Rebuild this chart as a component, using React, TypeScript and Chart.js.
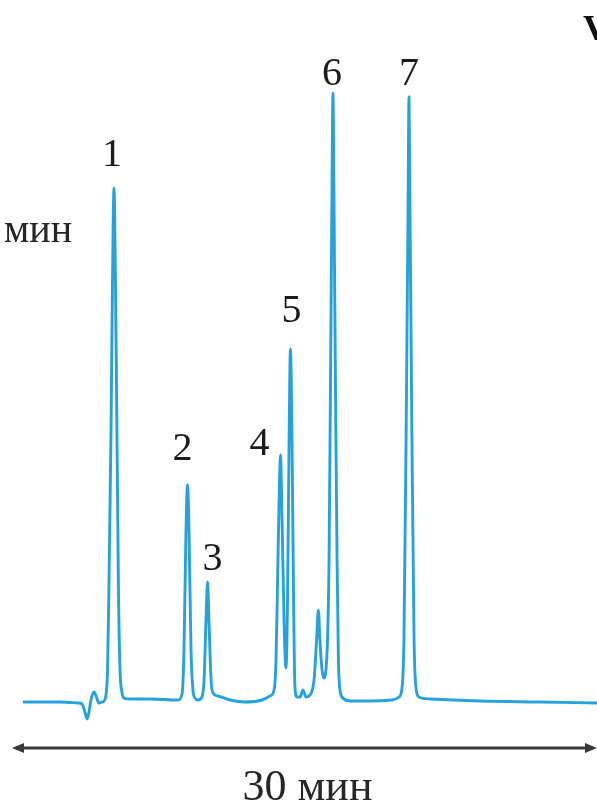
import React, { useEffect, useRef } from "react";
import { Chart, registerables } from "chart.js";

Chart.register(...registerables);

// Retention time (min) and detector signal (arbitrary units)
const timeMin = [
  0.56, 1.44, 2.46, 3.38, 3.59, 3.74, 3.85, 3.95, 4.05, 4.21, 4.31, 4.46, 4.62,
  4.72, 4.82, 4.9, 4.97, 5.08, 5.15, 5.23, 5.31, 5.38, 5.46, 5.54, 5.62, 5.74,
  6.05, 7.08, 8.51, 8.72, 8.82, 8.92, 9.0, 9.08, 9.18, 9.28, 9.38, 9.54, 9.74,
  9.85, 9.95, 10.03, 10.1, 10.21, 10.31, 10.56, 11.18, 11.95, 12.82, 13.23,
  13.44, 13.54, 13.64, 13.72, 13.77, 13.85, 13.95, 14.05, 14.13, 14.21, 14.28,
  14.36, 14.44, 14.51, 14.62, 14.77, 14.92, 15.08, 15.28, 15.49, 15.62, 15.71,
  15.79, 15.9, 16.0, 16.1, 16.18, 16.26, 16.33, 16.41, 16.46, 16.51, 16.59,
  16.67, 16.74, 16.82, 16.97, 17.33, 18.36, 19.49, 19.85, 20.0, 20.1, 20.21,
  20.31, 20.36, 20.41, 20.51, 20.62, 20.72, 20.87, 21.44, 24.0, 27.08, 30.0,
];
const signal = [
  0, 0, 0, -0.17, -0.33, -1.67, -2.83, -1.67, 0.33, 1.67, 1.0, -0.17, 0,
  0.17, 1.17, 5.33, 18.67, 45.5, 69.0, 85.67, 69.0, 45.5, 18.67, 5.33, 2.0, 0.67,
  0.5, 0.5, 0.33, 1.33, 8.67, 28.0, 36.17, 28.0, 8.67, 2.0, 0.67, 0.33, 0.83,
  3.67, 13.67, 20.0, 13.67, 3.67, 1.5, 1.0, 0.33, 0, 0.33, 1.0,
  2.0, 7.0, 23.67, 37.0, 41.17, 30.33, 13.67, 5.67, 17.0, 43.67, 58.83,
  43.67, 17.0, 2.5, 0.83, 0.83, 2.0, 0.83, 1.17, 3.67, 10.33, 15.33,
  10.33, 5.33, 4.0, 5.33, 10.33, 23.67, 52.0, 85.0, 101.5, 85.0, 52.0,
  23.67, 7.0, 2.0, 0.67, 0.17, 0.17, 0.33, 0.83, 2.33, 10.33, 44.0,
  82.0, 100.83, 82.0, 44.0, 10.33, 2.33, 0.83, 0.5, 0.17, 0, -0.17,
];

const peakNumbers = ["1", "2", "3", "4", "5", "6", "7"];
const peakTimes = [5.23, 9.0, 10.03, 13.77, 14.28, 16.46, 20.36];
const peakHeights = [85.67, 36.17, 20.0, 41.17, 58.83, 101.5, 100.83];

const runStartMin = 0;
const runLengthMin = 30;
const runLabel = "30 мин";
const unitLabel = "мин";
const panelLetter = "V";

// layout (pixel offsets of the peak numbers from the peak apex)
const labelDx = [-2, -5, 5, -21, 1, -1, 0];
const labelDy = [-22, -25, -12, 0, -27, -8, -12];

const W = 597;
const H = 808;

export default function App() {
  const ref = useRef<HTMLCanvasElement | null>(null);

  useEffect(() => {
    document.body.style.margin = "0";
    const canvas = ref.current;
    if (!canvas) return;

    const annotations = {
      id: "annotations",
      afterDatasetsDraw(chart: any) {
        const ctx = chart.ctx;
        const xs = chart.scales.x;
        const ys = chart.scales.y;
        ctx.save();
        ctx.fillStyle = "#1c1c1c";
        ctx.textAlign = "center";
        ctx.textBaseline = "alphabetic";
        ctx.font = '40px "Liberation Serif", "DejaVu Serif", serif';
        peakNumbers.forEach((lab, i) => {
          const px = xs.getPixelForValue(peakTimes[i]) + labelDx[i];
          const py = ys.getPixelForValue(peakHeights[i]) + labelDy[i];
          ctx.fillText(lab, px, py);
        });

        // unit at left
        ctx.textAlign = "left";
        ctx.font = '40px "Liberation Serif", "DejaVu Serif", serif';
        ctx.fillStyle = "#262626";
        ctx.fillText(unitLabel, 4, 242);

        // panel letter (cropped)
        ctx.font = 'bold 36px "Liberation Serif", "DejaVu Serif", serif';
        ctx.fillStyle = "#111";
        ctx.fillText(panelLetter, 583, 40);

        // double arrow for run length
        const x0 = xs.getPixelForValue(runStartMin);
        const x1 = xs.getPixelForValue(runStartMin + runLengthMin);
        const ay = 748;
        ctx.strokeStyle = "#3a3a3a";
        ctx.fillStyle = "#3a3a3a";
        ctx.lineWidth = 3;
        ctx.beginPath();
        ctx.moveTo(x0 + 4, ay);
        ctx.lineTo(x1 - 4, ay);
        ctx.stroke();
        ctx.beginPath();
        ctx.moveTo(x0, ay);
        ctx.lineTo(x0 + 12, ay - 5);
        ctx.lineTo(x0 + 12, ay + 5);
        ctx.closePath();
        ctx.fill();
        ctx.beginPath();
        ctx.moveTo(x1, ay);
        ctx.lineTo(x1 - 12, ay - 5);
        ctx.lineTo(x1 - 12, ay + 5);
        ctx.closePath();
        ctx.fill();

        ctx.textAlign = "center";
        ctx.fillStyle = "#262626";
        ctx.font = '44px "Liberation Serif", "DejaVu Serif", serif';
        ctx.fillText(runLabel, (x0 + x1) / 2 + 3, 800);
        ctx.restore();
      },
    };

    const chart = new Chart(canvas, {
      type: "line",
      data: {
        datasets: [
          {
            data: timeMin.map((t, i) => ({ x: t, y: signal[i] })),
            borderColor: "#25a2dc",
            borderWidth: 2.9,
            pointRadius: 0,
            cubicInterpolationMode: "monotone",
            fill: false,
          },
        ],
      },
      options: {
        animation: false,
        responsive: false,
        devicePixelRatio: 1,
        layout: { padding: 0 },
        plugins: {
          legend: { display: false },
          tooltip: { enabled: false },
          title: { display: false },
        },
        scales: {
          x: { type: "linear", min: -0.615, max: 30, display: false },
          y: { type: "linear", min: -17.67, max: 117, display: false },
        },
      },
      plugins: [annotations],
    });
    return () => chart.destroy();
  }, []);

  return (
    <div style={{ width: W, height: H, background: "#fff" }}>
      <canvas ref={ref} width={W} height={H} style={{ display: "block" }} />
    </div>
  );
}
